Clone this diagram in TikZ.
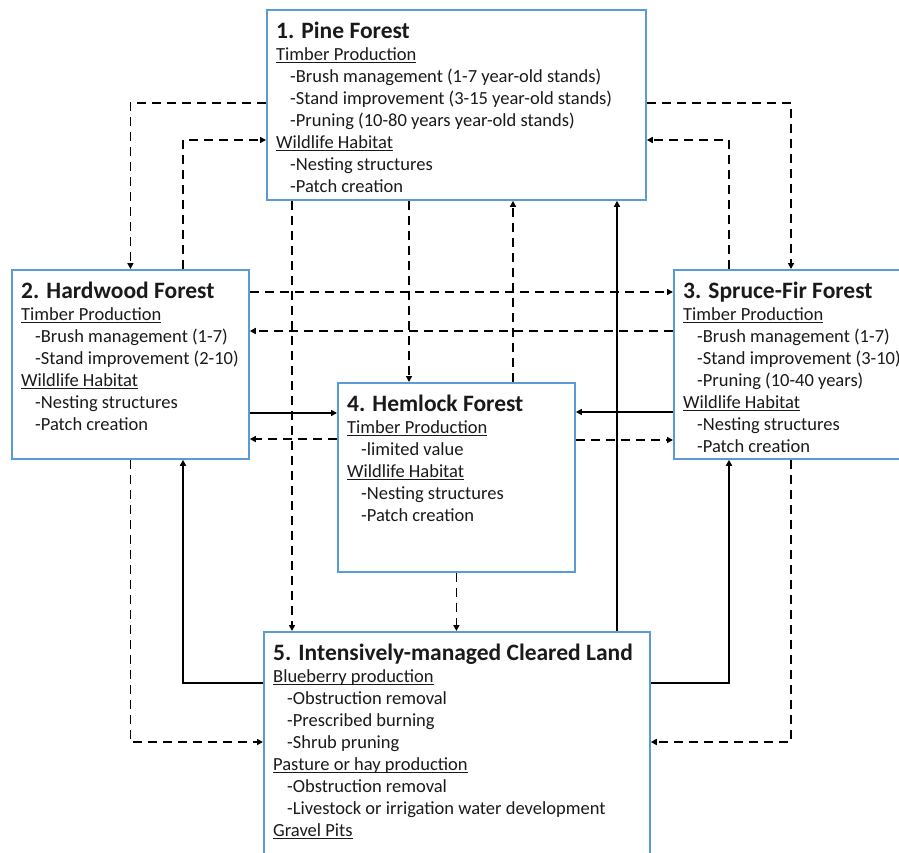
\documentclass[tikz,border=0pt]{standalone}
\usepackage{fontspec}
\setmainfont{Carlito}
\usepackage{tikz}
\usetikzlibrary{arrows.meta, positioning}
\definecolor{cBox}{HTML}{5B9BD5}
\definecolor{cText}{HTML}{1A1A1A}
\newcommand{\boxtitle}[1]{{\fontsize{23.5}{22}\selectfont\bfseries #1}}
\newcommand{\ulhead}[1]{\underline{\smash{#1}}}
\newcommand{\subline}[1]{\hspace*{14pt}-#1}
\tikzset{
  standbox/.style={
    rectangle, draw=cBox, line width=1.8pt, fill=white,
    inner sep=0pt, anchor=north west
  },
  boxtext/.style={
    align=left, inner sep=0pt, text=cText,
    font=\fontsize{18.5}{22}\selectfont
  },
  link/.style={-{Triangle[length=6pt, width=6pt]}, line width=1.7pt},
  dlink/.style={link, dash pattern=on 9pt off 6pt},
}

\begin{document}
\begin{tikzpicture}[x=1pt, y=1pt]
  \useasboundingbox (0,0) rectangle (899,-852);

  % Stand boxes
  \node[standbox, minimum width=379pt, minimum height=190pt] (pine) at (266,-9) {};
  \node[standbox, minimum width=237pt, minimum height=189pt] (hard) at (11,-269) {};
  \node[standbox, minimum width=236pt, minimum height=189pt] (spruce) at (673,-269) {};
  \node[standbox, minimum width=237pt, minimum height=189pt] (hem) at (337,-382) {};
  \node[standbox, minimum width=386pt, minimum height=232pt] (clear) at (263,-631) {};

  % Box texts
  \node[boxtext, below right=13pt and 10pt of pine.north west] (pinetext) {
    \boxtitle{1. Pine Forest}\\
    \ulhead{Timber Production}\\
    \subline{Brush management (1-7 year-old stands)}\\
    \subline{Stand improvement (3-15 year-old stands)}\\
    \subline{Pruning (10-80 years year-old stands)}\\
    \ulhead{Wildlife Habitat}\\
    \subline{Nesting structures}\\
    \subline{Patch creation}
  };
  \node[boxtext, below right=13pt and 10pt of hard.north west] (hardtext) {
    \boxtitle{2. Hardwood Forest}\\
    \ulhead{Timber Production}\\
    \subline{Brush management (1-7)}\\
    \subline{Stand improvement (2-10)}\\
    \ulhead{Wildlife Habitat}\\
    \subline{Nesting structures}\\
    \subline{Patch creation}
  };
  \node[boxtext, below right=13pt and 10pt of spruce.north west] (sprucetext) {
    \boxtitle{3. Spruce-Fir Forest}\\
    \ulhead{Timber Production}\\
    \subline{Brush management (1-7)}\\
    \subline{Stand improvement (3-10)}\\
    \subline{Pruning (10-40 years)}\\
    \ulhead{Wildlife Habitat}\\
    \subline{Nesting structures}\\
    \subline{Patch creation}
  };
  \node[boxtext, below right=13pt and 10pt of hem.north west] (hemtext) {
    \boxtitle{4. Hemlock Forest}\\
    \ulhead{Timber Production}\\
    \subline{limited value}\\
    \ulhead{Wildlife Habitat}\\
    \subline{Nesting structures}\\
    \subline{Patch creation}
  };
  \node[boxtext, below right=13pt and 10pt of clear.north west] (cleartext) {
    \boxtitle{5. Intensively-managed Cleared Land}\\
    \ulhead{Blueberry production}\\
    \subline{Obstruction removal}\\
    \subline{Prescribed burning}\\
    \subline{Shrub pruning}\\
    \ulhead{Pasture or hay production}\\
    \subline{Obstruction removal}\\
    \subline{Livestock or irrigation water development}\\
    \ulhead{Gravel Pits}
  };

  % Ports
  \coordinate (pA) at ([xshift=26pt]pine.south west);
  \coordinate (pB) at ([xshift=143pt]pine.south west);
  \coordinate (hA) at ([xshift=176pt]hem.north west);
  \coordinate (cA) at ([xshift=354pt]clear.north west);
  \coordinate (hB) at ([yshift=-23pt]hard.north east);
  \coordinate (sB) at ([yshift=-62pt]spruce.north west);
  \coordinate (hC) at ([yshift=-144pt]hard.north east);
  \coordinate (mC) at ([yshift=-57pt]hem.north west);
  \coordinate (sC) at ([yshift=-143pt]spruce.north west);
  \coordinate (mD) at ([yshift=-58pt]hem.north east);

  % Pine <-> Hardwood, Pine <-> Spruce-Fir
  \draw[dlink] ([yshift=-94pt]pine.north west) -| (hard.north);
  \draw[dlink] ([xshift=172pt]hard.north west) |- ([yshift=-131pt]pine.north west);
  \draw[dlink] ([yshift=-94pt]pine.north east) -| ([xshift=118pt]spruce.north west);
  \draw[dlink] ([xshift=56pt]spruce.north west) |- ([yshift=-131pt]pine.north east);

  % Vertical links
  \draw[dlink] (pA) -- (pA |- clear.north);
  \draw[dlink] (pB) -- (pB |- hem.north);
  \draw[dlink] (hA) -- (hA |- pine.south);
  \draw[link] (cA) -- (cA |- pine.south);
  \draw[dlink] (hem.south) -- (hem.south |- clear.north);

  % Horizontal links
  \draw[dlink] (hB) -- (hB -| spruce.west);
  \draw[dlink] (sB) -- (sB -| hard.east);
  \draw[link] (hC) -- (hC -| hem.west);
  \draw[dlink] (mC) -- (mC -| hard.east);
  \draw[link] (sC) -- (sC -| hem.east);
  \draw[dlink] (mD) -- (mD -| spruce.west);

  % Cleared land <-> side forests
  \draw[dlink] (hard.south) |- ([yshift=-111pt]clear.north west);
  \draw[link] ([yshift=-52pt]clear.north west) -| ([xshift=172pt]hard.south west);
  \draw[dlink] ([xshift=118pt]spruce.south west) |- ([yshift=-111pt]clear.north east);
  \draw[link] ([yshift=-52pt]clear.north east) -| ([xshift=56pt]spruce.south west);

\end{tikzpicture}
\end{document}
